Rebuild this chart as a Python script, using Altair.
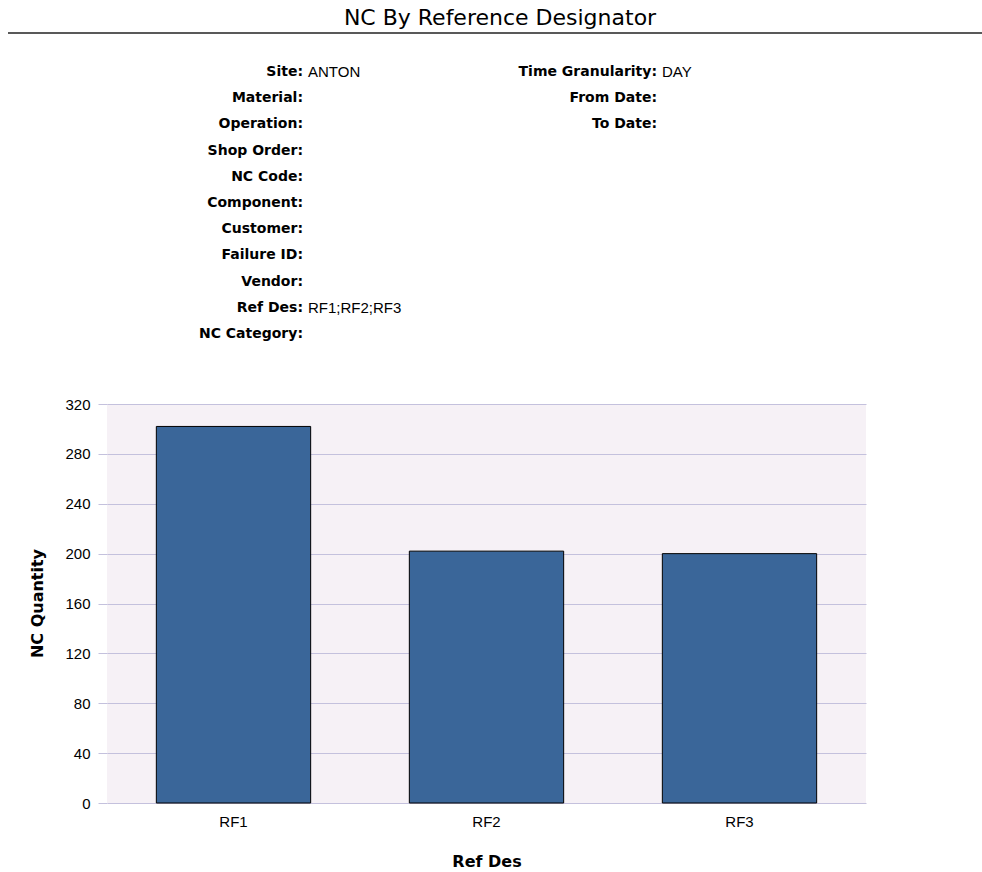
import altair as alt
import pandas as pd

# ---- data ----
categories = ["RF1", "RF2", "RF3"]
nc_quantity = [302, 202, 200]
y_ticks = [0, 40, 80, 120, 160, 200, 240, 280, 320]

title_text = "NC By Reference Designator"
left_labels = ["Site:", "Material:", "Operation:", "Shop Order:", "NC Code:",
               "Component:", "Customer:", "Failure ID:", "Vendor:", "Ref Des:",
               "NC Category:"]
left_values = ["ANTON", "", "", "", "", "", "", "", "", "RF1;RF2;RF3", ""]
right_labels = ["Time Granularity:", "From Date:", "To Date:"]
right_values = ["DAY", "", ""]

# ---- layout constants ----
W, H = 759, 399
PAD_L, PAD_T = 107, 404
PAD_R = 982 - W - PAD_L
PAD_B = 872 - H - PAD_T
ROW0 = 72 - PAD_T
ROW_STEP = 26.2

bars_df = pd.DataFrame({"Ref Des": categories, "NC Quantity": nc_quantity})
left_df = pd.DataFrame({"row": list(range(len(left_labels))),
                        "label": left_labels, "value": left_values})
right_df = pd.DataFrame({"row": list(range(len(right_labels))),
                         "label": right_labels, "value": right_values})

LABEL_FONT = "DejaVu Sans"
VAL_FONT = "Liberation Sans"

bars = alt.Chart(bars_df).mark_bar(
    color="#3A6699", stroke="black", strokeWidth=1
).encode(
    x=alt.X("Ref Des:N", sort=categories,
            scale=alt.Scale(paddingInner=0.39, paddingOuter=0.195),
            axis=alt.Axis(title="Ref Des", labelAngle=0, domain=False, ticks=False,
                          labelPadding=11, labelFont=VAL_FONT, labelFontSize=15,
                          labelColor="black", titleFont=LABEL_FONT, titleFontSize=16,
                          titleFontWeight="bold", titleColor="black",
                          titleY=58, titleBaseline="middle", grid=False)),
    y=alt.Y("NC Quantity:Q",
            scale=alt.Scale(domain=[0, 320], nice=False),
            axis=alt.Axis(values=y_ticks, title="NC Quantity", domain=False,
                          tickColor="#C4C1DD", tickSize=9, tickWidth=1,
                          gridColor="#C4C1DD", gridWidth=1,
                          labelPadding=8, labelFont=VAL_FONT, labelFontSize=15,
                          labelColor="black", titleFont=LABEL_FONT, titleFontSize=16,
                          titleFontWeight="bold", titleColor="black",
                          titleAngle=-90, titleX=-70, titleY=199,
                          titleAlign="center", titleBaseline="middle")),
)

row_scale = alt.Scale(domain=[0, len(left_labels) - 1],
                      range=[ROW0, ROW0 + ROW_STEP * (len(left_labels) - 1)])

left_lab = alt.Chart(left_df).mark_text(
    align="right", baseline="middle", font=LABEL_FONT, fontSize=14,
    fontWeight="bold", color="black"
).encode(x=alt.value(303 - PAD_L),
         y=alt.Y("row:Q", scale=row_scale, axis=None),
         text="label:N")
left_val = alt.Chart(left_df).mark_text(
    align="left", baseline="middle", font=VAL_FONT, fontSize=15, color="black"
).encode(x=alt.value(308 - PAD_L),
         y=alt.Y("row:Q", scale=row_scale, axis=None),
         text="value:N")
right_lab = alt.Chart(right_df).mark_text(
    align="right", baseline="middle", font=LABEL_FONT, fontSize=14,
    fontWeight="bold", color="black"
).encode(x=alt.value(657 - PAD_L),
         y=alt.Y("row:Q", scale=row_scale, axis=None),
         text="label:N")
right_val = alt.Chart(right_df).mark_text(
    align="left", baseline="middle", font=VAL_FONT, fontSize=15, color="black"
).encode(x=alt.value(662 - PAD_L),
         y=alt.Y("row:Q", scale=row_scale, axis=None),
         text="value:N")

title = alt.Chart(alt.Data(values=[{"t": title_text}])).mark_text(
    align="center", baseline="middle", font=LABEL_FONT, fontSize=22, color="black"
).encode(x=alt.value(500 - PAD_L), y=alt.value(18 - PAD_T), text="t:N")

rule = alt.Chart(alt.Data(values=[{"a": 1}])).mark_rule(
    color="#222222", strokeWidth=1.5
).encode(x=alt.value(8 - PAD_L), x2=alt.value(982 - PAD_L), y=alt.value(33 - PAD_T))

chart = alt.layer(
    bars, title, rule, left_lab, left_val, right_lab, right_val
).resolve_scale(
    y="independent"
).properties(
    width=W, height=H,
    autosize=alt.AutoSizeParams(type="none"),
    padding={"left": PAD_L, "top": PAD_T, "right": PAD_R, "bottom": PAD_B},
    background="white",
).configure_view(
    fill="#F6F1F6", stroke=None
)

chart.save("out.html", embed_options={"renderer": "svg", "actions": False})
